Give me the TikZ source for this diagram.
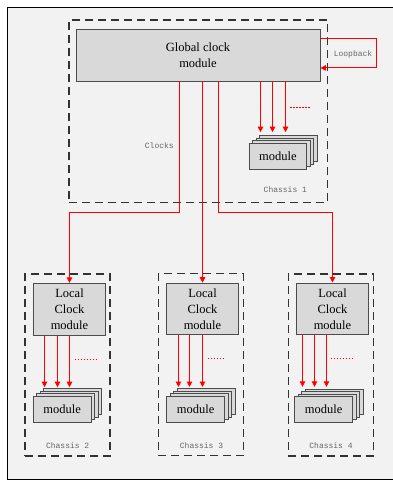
\documentclass[tikz,border=0pt]{standalone}
\usepackage{fontspec}
\setmainfont{Liberation Serif}
\newfontfamily\monofont{Liberation Mono}
\usetikzlibrary{arrows.meta,shadows}

\begin{document}
\begin{tikzpicture}
[x=1pt,y=-1pt,every node/.style={inner sep=0pt,font=\fontsize{12.5}{16}\selectfont}]
\tikzset{chassis/.style = {draw=black!80,line width=1.4pt,dash pattern=on 8pt off 5pt,minimum width=85pt,minimum height=182pt}}
\tikzset{box/.style = {draw=black!70,fill=black!15,line width=0.9pt,align=center}}
\tikzset{local/.style = {box,minimum width=72.5pt,minimum height=51.7pt}}
\tikzset{stack/.style = {box,minimum width=57.7pt,minimum height=25.7pt,
  copy shadow={shadow xshift=10.5pt,shadow yshift=7.5pt},
  copy shadow={shadow xshift=7pt,shadow yshift=5pt},
  copy shadow={shadow xshift=3.5pt,shadow yshift=2.5pt}}}
\tikzset{note/.style = {text=black!60,font=\monofont\fontsize{8}{10}\selectfont}}
\tikzset{clk/.style = {draw=red,line width=1pt,-{Triangle[length=5.5pt,width=5.5pt,fill=red]}}}
\tikzset{dots/.style = {draw=red,line width=0.9pt,dash pattern=on 1.5pt off 1.5pt}}
  \useasboundingbox (0,0) rectangle (392,481);
  \draw[fill=black!5,line width=0.8pt] (7,7) rectangle (400,479.5);
  \node[chassis,minimum width=258.5pt,minimum height=182.7pt] (c1) at (198.3,111.4){};
  \node[box,minimum width=244pt,minimum height=51.7pt] (g) at (198,55.15){Global clock\\module};
  \node[stack] (m1) at (277.9,156.2){module};
  \node[note] (lb) at (353,54.3){Loopback};
  \node[note] (ck) at (159.3,146){Clocks};
  \node[note] (n1) at (285.3,190){Chassis 1};
  \node[chassis] (c2) at (67.5,365){};
  \node[local] (l2) at (69.5,309.2){Local\\Clock\\module};
  \node[stack] (m2) at (62.2,409.2){module};
  \node[note] (n2) at (67.7,446){Chassis 2};
  \node[chassis] (c3) at (200.8,364.5){};
  \node[local] (l3) at (202.5,309){Local\\Clock\\module};
  \node[stack] (m3) at (195.7,409.2){module};
  \node[note] (n3) at (201.5,446){Chassis 3};
  \node[chassis] (c4) at (330.8,365){};
  \node[local] (l4) at (332.5,308.8){Local\\Clock\\module};
  \node[stack] (m4) at (323.7,409.5){module};
  \node[note] (n4) at (331,446){Chassis 4};
\draw[clk] ([yshift=-9.2pt]g.north east) -- ++(56.5,0) |- ([yshift=13.5pt]g.south east);
\draw[clk] ([xshift=-18.5pt]g.south) -- ++(0,131.5) -| (l2.north);
\draw[clk] (l3.north |- g.south) -- (l3.north);
\draw[clk] ([xshift=20.5pt]g.south) -- ++(0,131.5) -| (l4.north);
\draw[clk] ([xshift=62.5pt]g.south) -- ++(0,50.7);
\draw[clk] ([xshift=74.5pt]g.south) -- ++(0,50.7);
\draw[clk] ([xshift=87.5pt]g.south) -- ++(0,50.7);
\draw[dots] ([shift={(92,26.5)}]g.south) -- ++(20.7,0);
\draw[clk] ([xshift=-25pt]l2.south) -- ++(0,51.7);
\draw[clk] ([xshift=-12pt]l2.south) -- ++(0,51.7);
\draw[clk] (l2.south) -- ++(0,51.7);
\draw[dots] ([shift={(5,24.35)}]l2.south) -- ++(21.7,0);
\draw[clk] ([xshift=-24pt]l3.south) -- ++(0,51.7);
\draw[clk] ([xshift=-13pt]l3.south) -- ++(0,51.7);
\draw[clk] (l3.south) -- ++(0,51.7);
\draw[dots] ([shift={(5,23.6)}]l3.south) -- ++(17,0);
\draw[clk] ([xshift=-30pt]l4.south) -- ++(0,51.7);
\draw[clk] ([xshift=-18pt]l4.south) -- ++(0,51.7);
\draw[clk] ([xshift=-6pt]l4.south) -- ++(0,51.7);
\draw[dots] ([shift={(-2,23.2)}]l4.south) -- ++(21.3,0);
\end{tikzpicture}
\end{document}
